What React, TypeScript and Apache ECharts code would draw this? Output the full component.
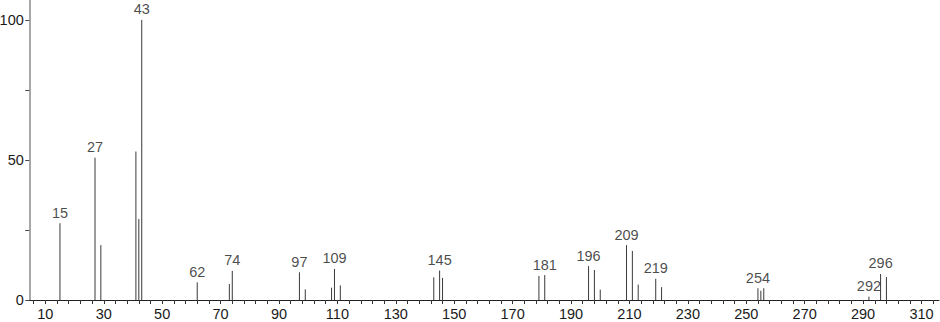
import React, { useEffect, useRef } from "react";
import * as echarts from "echarts";

const mzValues = [15, 27, 29, 41, 42, 43, 62, 73, 74, 97, 99, 108, 109, 111, 143, 145, 146, 179, 181, 196, 198, 200, 209, 211, 213, 219, 221, 254, 255, 256, 292, 296, 298];
const intensities = [27.4, 50.8, 19.6, 53, 28.9, 100, 6.3, 5.7, 10.4, 9.9, 3.8, 4.4, 11.1, 5.2, 8.1, 10.5, 7.9, 8.6, 8.9, 12.1, 10.7, 3.7, 19.6, 17.5, 5.5, 7.6, 4.6, 4.2, 3.3, 4.2, 1.2, 9.3, 8.2];
const labelledPeaks = [15, 27, 43, 62, 74, 97, 109, 145, 181, 196, 209, 219, 254, 292, 296];

const xLabelValues = [10, 30, 50, 70, 90, 110, 130, 150, 170, 190, 210, 230, 250, 270, 290, 310];
const xTickValues: number[] = [];
for (let v = 6; v <= 314; v += 4) xTickValues.push(v);
const yTickValues = [0, 25, 50, 75, 100];
const yLabelValues = [0, 50, 100];

const FONT = "'Liberation Sans', Arial, sans-serif";
const FONT_SIZE = 14.5;

export default function App() {
  const ref = useRef<HTMLDivElement>(null);
  useEffect(() => {
    document.body.style.margin = "0";
    if (!ref.current) return;
    const chart = echarts.init(ref.current, undefined, { renderer: "svg" });
    const peakData = mzValues.map((m, i) => [m, intensities[i]]);
    const labelData = peakData.filter((d) => labelledPeaks.includes(d[0]));
    chart.setOption({
      animation: false,
      backgroundColor: "#ffffff",
      grid: { left: 29.3, right: 1, top: 0, bottom: 22, containLabel: false, outerBoundsMode: "none" },
      xAxis: {
        type: "value",
        min: 4.5,
        max: 316,
        splitLine: { show: false },
        axisLine: { show: true, onZero: false, lineStyle: { color: "#222", width: 1 } },
        axisTick: { show: true, length: 4, customValues: xTickValues, lineStyle: { color: "#333" } },
        axisLabel: { show: true, customValues: xLabelValues, margin: 6, color: "#1a1a1a", fontSize: FONT_SIZE, fontFamily: FONT },
      },
      yAxis: {
        type: "value",
        min: 0,
        max: 107.1,
        splitLine: { show: false },
        axisLine: { show: true, lineStyle: { color: "#a8a8a8", width: 2 } },
        axisTick: { show: true, length: 4, customValues: yTickValues, lineStyle: { color: "#444" } },
        axisLabel: { show: true, customValues: yLabelValues, margin: 5.5, color: "#1a1a1a", fontSize: FONT_SIZE, fontFamily: FONT },
      },
      series: [
        {
          type: "custom",
          silent: true,
          data: peakData,
          renderItem: (params: any, api: any) => {
            const x = api.value(0);
            const y = api.value(1);
            const p0 = api.coord([x, 0]);
            const p1 = api.coord([x, y]);
            return {
              type: "line",
              shape: { x1: p0[0], y1: p0[1], x2: p1[0], y2: p1[1] },
              style: { stroke: "#3a3a3a", lineWidth: 1 },
            };
          },
        },
        {
          type: "scatter",
          silent: true,
          symbolSize: 0,
          data: labelData,
          label: {
            show: true,
            position: "top",
            distance: 3,
            color: "#1a1a1a",
            fontSize: FONT_SIZE,
            fontFamily: FONT,
            formatter: (p: any) => String(p.value[0]),
          },
        },
      ],
    });
    return () => chart.dispose();
  }, []);
  return <div ref={ref} style={{ width: 940, height: 322 }} />;
}
